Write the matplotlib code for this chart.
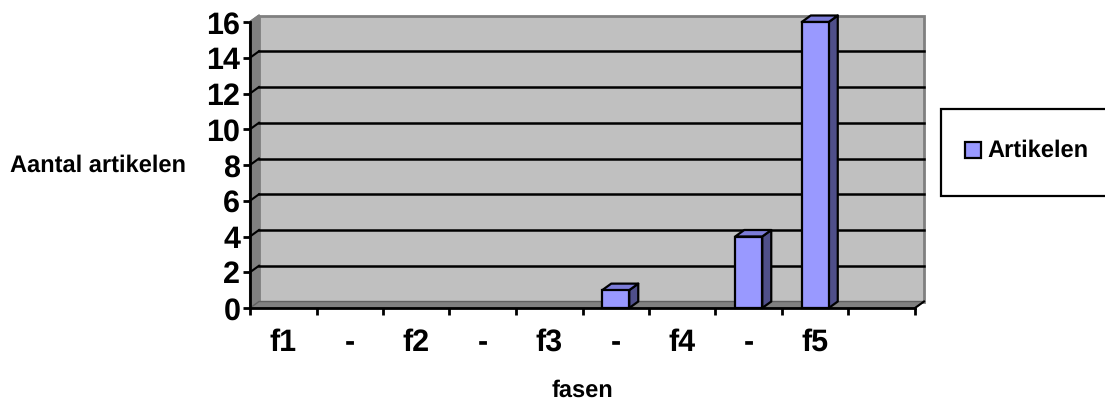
import matplotlib
matplotlib.use('Agg')
import matplotlib.pyplot as plt
from matplotlib.patches import Polygon, Rectangle

plt.rcParams['font.family'] = ['Liberation Sans', 'DejaVu Sans']
plt.rcParams['font.weight'] = 'bold'
plt.rcParams['text.hinting'] = 'no_hinting'

labels = ['f1', '-', 'f2', '-', 'f3', '-', 'f4', '-', 'f5', '']
values = [0, 0, 0, 0, 0, 1, 0, 4, 16, 0]
yticks = [0, 2, 4, 6, 8, 10, 12, 14, 16]
series_name = 'Artikelen'

W, H = 1105, 403
fig = plt.figure(figsize=(W / 100, H / 100), dpi=100)
ax = fig.add_axes([250 / W, 1 - 308 / H, 665 / W, 286 / H])
ax.set_xlim(0, len(labels))
ax.set_ylim(0, 16)

# 3d look: depth offset in data units
dx = 9 / 66.5
dy = 6.5 / 17.875
barw = 27 / 66.5

wall = '#c0c0c0'
edge = '#808080'
floor = '#808080'
face = '#9999ff'
top = '#7c7cd8'
side = '#4f4f8a'

n = len(labels)
for s in ['top', 'right', 'left', 'bottom']:
    ax.spines[s].set_visible(False)
ax.patch.set_visible(False)

# back wall
ax.add_patch(Rectangle((dx, dy), n, 16, fc=wall, ec=edge, lw=2, clip_on=False, zorder=1))
# left wall and floor
ax.add_patch(Polygon([(0, 0), (dx, dy), (dx, 16 + dy), (0, 16)], fc=edge, ec=edge, lw=1.5,
                     clip_on=False, zorder=1))
ax.add_patch(Polygon([(0, 0), (n, 0), (n + dx, dy), (dx, dy)], fc=floor, ec='#606060', lw=1,
                     clip_on=False, zorder=1))

# gridlines on the back wall, with the slanted tick on the left wall
for v in yticks[1:-1]:
    ax.plot([dx, n + dx], [v + dy, v + dy], color='black', lw=1.8, clip_on=False, zorder=2)
    ax.plot([0, dx], [v, v + dy], color='black', lw=1.5, clip_on=False, zorder=2)
ax.plot([0, dx], [16, 16 + dy], color='#808080', lw=1.5, clip_on=False, zorder=2)

# bars
for i, v in enumerate(values):
    if v == 0:
        continue
    x0 = i + 0.5 - barw / 2
    x1 = x0 + barw
    ax.add_patch(Polygon([(x1, 0), (x1 + dx, dy), (x1 + dx, v + dy), (x1, v)], fc=side, ec='black',
                         lw=1.6, clip_on=False, zorder=3, joinstyle='round'))
    ax.add_patch(Polygon([(x0, v), (x0 + dx, v + dy), (x1 + dx, v + dy), (x1, v)], fc=top, ec='black',
                         lw=1.6, clip_on=False, zorder=3, joinstyle='round'))
    ax.add_patch(Rectangle((x0, 0), barw, v, fc=face, ec='black', lw=1.6, clip_on=False, zorder=4))

# front axes
ax.plot([0, 0], [0, 16], color='black', lw=2, clip_on=False, zorder=5)
ax.plot([0, n], [0, 0], color='black', lw=2, clip_on=False, zorder=5)
ax.plot([n, n + dx], [0, dy], color='black', lw=1.5, clip_on=False, zorder=5)

ax.set_yticks(yticks)
ax.set_yticklabels([str(v) for v in yticks], fontsize=22, fontweight='bold')
ax.set_xticks(range(n + 1))
ax.set_xticklabels([''] * (n + 1))
ax.tick_params(axis='y', length=5, width=2, pad=2, color='black')
ax.tick_params(axis='x', length=5, width=2, color='black')

for i, lab in enumerate(labels):
    ax.annotate(lab, (i + 0.5, 0), xytext=(0, -25), textcoords='offset points', ha='center', va='center',
                fontsize=22, fontweight='bold', annotation_clip=False)

fig.text(98 / W, 1 - 166 / H, 'Aantal artikelen', fontsize=17, fontweight='bold', ha='center', va='center')
fig.text(582 / W, 1 - 391 / H, 'fasen', fontsize=17, fontweight='bold', ha='center', va='center')

# legend box
fig.add_artist(Rectangle((940.5 / W, 1 - 196 / H), 170 / W, 87 / H, transform=fig.transFigure,
                         fc='white', ec='black', lw=1.6))
fig.add_artist(Rectangle((965 / W, 1 - 158 / H), 16 / W, 16 / H, transform=fig.transFigure,
                         fc=face, ec='black', lw=1.6))
fig.text(987 / W, 1 - 150.5 / H, series_name, fontsize=17, fontweight='bold', ha='left', va='center')

fig.savefig('out.png', dpi=100)
